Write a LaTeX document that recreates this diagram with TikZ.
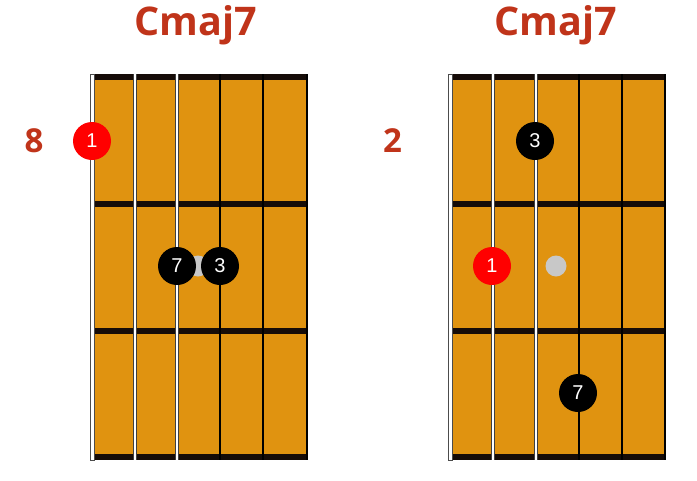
\documentclass[tikz,border=0pt]{standalone}
\usepackage{fontspec}
\setmainfont{Liberation Sans}
\newfontfamily\titlefont{Open Sans}
\definecolor{board}{RGB}{224,147,16}
\definecolor{fretc}{RGB}{22,12,8}
\definecolor{titlec}{RGB}{192,52,26}
\definecolor{numc}{RGB}{192,52,26}
\definecolor{grayd}{RGB}{200,200,200}
\begin{document}
\begin{tikzpicture}[x=1pt,y=-1pt,
  titletext/.style={font=\titlefont\bfseries\fontsize{39.5}{42}\selectfont, text=titlec, inner sep=0pt, anchor=base},
  fretnum/.style={font=\titlefont\bfseries\fontsize{33}{36}\selectfont, text=numc, inner sep=0pt, anchor=base},
  blackdot/.style={circle, fill=black, minimum size=38pt, inner sep=0pt, text=white, font=\fontsize{20}{22}\selectfont},
  reddot/.style={circle, fill=red, minimum size=38pt, inner sep=0pt, text=white, font=\fontsize{20}{22}\selectfont},
  graydot/.style={circle, fill=grayd, minimum size=21pt, inner sep=0pt},
  whitestring/.style={draw=black!75, line width=3.6pt},
  whitestringin/.style={draw=white, line width=1.8pt},
  blackstring/.style={draw=black, line width=1.2pt},
  fretbar/.style={fill=fretc}
]
\useasboundingbox (0,0) rectangle (697,480);

% ---------- left diagram ----------
\node[titletext] (t1) at (196,35) {Cmaj7};
\node[fretnum] (n1) at (34,152.5) {8};
\fill[board] (94,74) rectangle (307,460);
\foreach \y in {74,201,328,454} \fill[fretbar] (94,\y) rectangle (308,\y+6);
\draw[fill=white, draw=black!70, line width=0.8pt] (90,74) rectangle (94.3,460);
\foreach \x in {135,177} {\draw[whitestring] (\x,74) -- (\x,460); \draw[whitestringin] (\x,74) -- (\x,460);}
\foreach \x in {220,263,307} \draw[blackstring] (\x,74) -- (\x,460);
\node[reddot] (a1) at (92,141) {1};
\node[graydot] (ag) at (198,266) {};
\node[blackdot] (a7) at (177,266) {7};
\node[blackdot] (a3) at (220,266) {3};

% ---------- right diagram ----------
\node[titletext] (t2) at (556,35) {Cmaj7};
\node[fretnum] (n2) at (392.5,152.5) {2};
\fill[board] (452,74) rectangle (665,460);
\foreach \y in {74,201,328,454} \fill[fretbar] (452,\y) rectangle (666,\y+6);
\draw[fill=white, draw=black!70, line width=0.8pt] (448,74) rectangle (452.3,460);
\foreach \x in {493,536} {\draw[whitestring] (\x,74) -- (\x,460); \draw[whitestringin] (\x,74) -- (\x,460);}
\foreach \x in {579,622,665} \draw[blackstring] (\x,74) -- (\x,460);
\node[blackdot] (b3) at (535,141) {3};
\node[reddot] (b1) at (492,266) {1};
\node[graydot] (bg) at (556,266) {};
\node[blackdot] (b7) at (578,393) {7};
\end{tikzpicture}
\end{document}
